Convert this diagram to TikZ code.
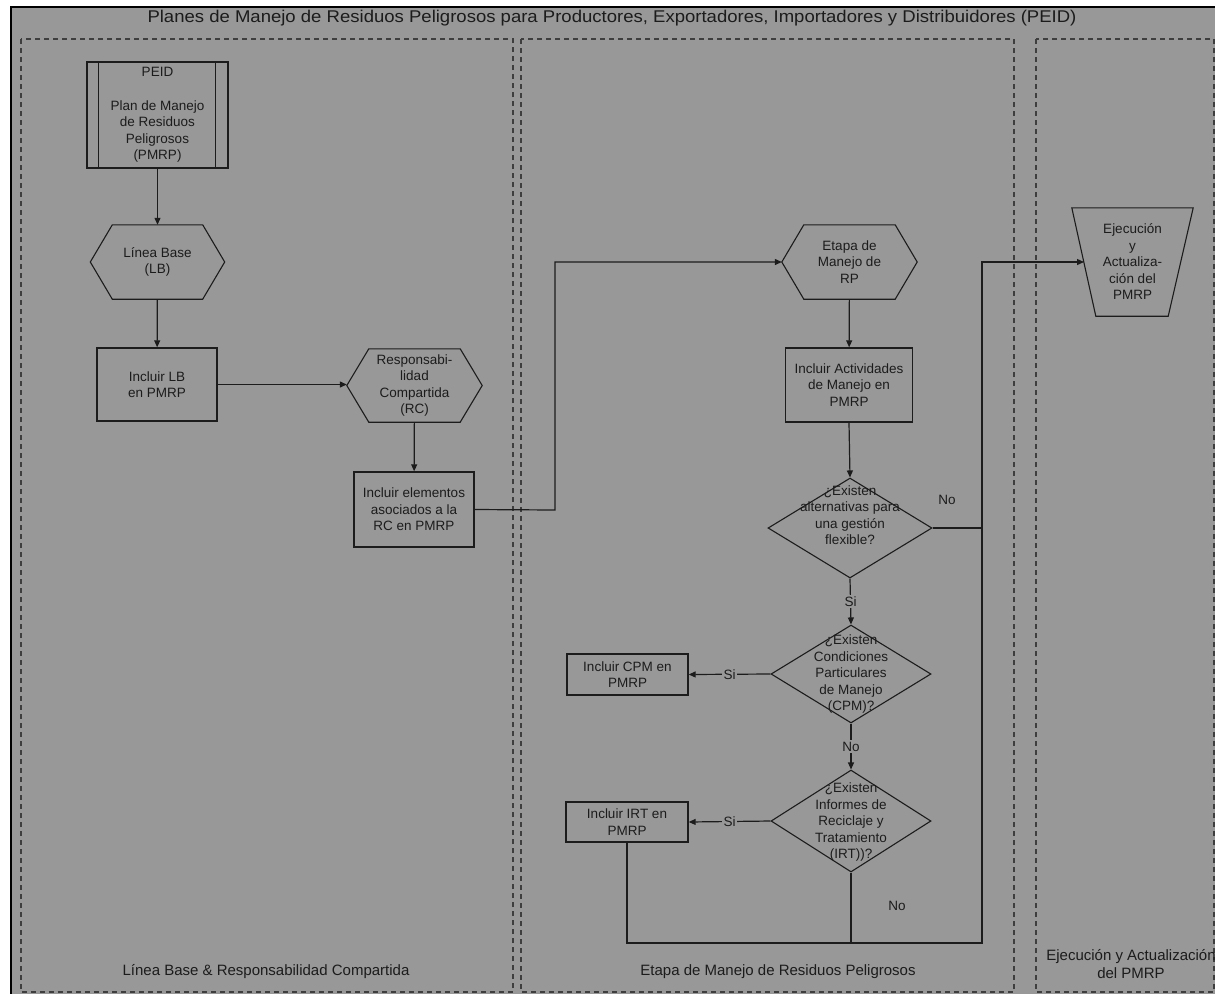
\documentclass[tikz,border=0pt]{standalone}
\usepackage{fontspec}
\setmainfont{Liberation Sans}
\usetikzlibrary{arrows.meta,shapes.geometric}
\definecolor{paper}{HTML}{989898}
\definecolor{ink}{HTML}{1C1C1C}

% outline of an elongated hexagon around a (rectangular) node
\newcommand\hexoutline[1]{%
  \draw[shapeline] (#1.west) -- ([xshift=22pt]#1.north west) -- ([xshift=-22pt]#1.north east)
    -- (#1.east) -- ([xshift=-22pt]#1.south east) -- ([xshift=22pt]#1.south west) -- cycle;}

\begin{document}
\begin{tikzpicture}[x=1pt,y=-1pt,
  txt/.style={font=\fontsize{13.5}{16.5}\selectfont, align=center, text=ink, inner sep=0pt},
  shapeline/.style={draw=ink, line width=1.1pt},
  boxnode/.style={txt, draw=ink, line width=1.4pt, rectangle},
  hexnode/.style={txt, rectangle, draw=none},
  decision/.style={diamond, draw=ink, line width=1.1pt, inner sep=0pt},
  flow/.style={draw=ink, line width=1.2pt},
  arr/.style={flow, -{Triangle[length=7pt,width=6pt]}},
  lane/.style={draw=ink!85, line width=1.6pt, dash pattern=on 5pt off 4pt},
  lanetitle/.style={font=\fontsize{15}{18}\selectfont, align=center, text=ink, inner sep=0pt},
  edgelbl/.style={txt, fill=paper, inner sep=1.5pt}
]
\useasboundingbox (0,0) rectangle (1215,994);
\fill[white] (0,0) rectangle (1215,994);
\fill[paper] (11,7) rectangle (1215,994);
\draw[black, line width=1.5pt] (1215,7) -- (11,7) -- (11,994);

% swimlanes
\draw[lane] (21,39) rectangle (513,992);
\draw[lane] (521,39) rectangle (1014,992);
\draw[lane] (1036,39) rectangle (1214,992);

\node[font=\fontsize{17}{20}\selectfont, text=ink, inner sep=0pt] (title) at (612,18)
  {\scalebox{1.09}[1]{Planes de Manejo de Residuos Peligrosos para Productores, Exportadores, Importadores y Distribuidores (PEID)}};

% lane 1: base line and shared responsibility
\node[boxnode, minimum width=141pt, minimum height=106pt] (peid) at (157.5,115)
  {PEID\\[17pt]Plan de Manejo\\de Residuos\\Peligrosos\\(PMRP)};
\draw[shapeline] ([xshift=12pt]peid.north west) -- ([xshift=12pt]peid.south west);
\draw[shapeline] ([xshift=-13pt]peid.north east) -- ([xshift=-13pt]peid.south east);

\node[hexnode, minimum width=134pt, minimum height=74pt] (lb) at (157.5,262) {Línea Base\\(LB)};
\hexoutline{lb}

\node[boxnode, minimum width=120pt, minimum height=73pt] (inclb) at (157,384.5) {Incluir LB\\en PMRP};

\node[hexnode, minimum width=135pt, minimum height=73pt] (rc) at (414.5,385.5)
  {Responsabi-\\lidad\\Compartida\\(RC)};
\hexoutline{rc}

\node[boxnode, minimum width=120pt, minimum height=75pt] (incrc) at (414,509.5)
  {Incluir elementos\\asociados a la\\RC en PMRP};

% lane 2: handling stage
\node[hexnode, minimum width=135pt, minimum height=74pt] (etapa) at (849.5,262)
  {Etapa de\\Manejo de\\RP};
\hexoutline{etapa}

\node[boxnode, minimum width=127pt, minimum height=74pt] (incact) at (849,385)
  {Incluir Actividades\\de Manejo en\\PMRP};

\node[decision, minimum width=164pt, minimum height=100pt] (d1) at (850,528) {};
\node[txt] (d1t) at (850,515) {¿Existen\\alternativas para\\una gestión\\flexible?};

\node[decision, minimum width=160pt, minimum height=98pt] (d2) at (851,674) {};
\node[txt] (d2t) at (851,674) {¿Existen\\Condiciones\\Particulares\\de Manejo\\(CPM)?};

\node[decision, minimum width=160pt, minimum height=102pt] (d3) at (851,821) {};
\node[txt] (d3t) at (851,822) {¿Existen\\Informes de\\Reciclaje y\\Tratamiento\\(IRT))?};

\node[boxnode, minimum width=121pt, minimum height=41pt] (cpm) at (627.5,674.5) {Incluir CPM en\\PMRP};
\node[boxnode, minimum width=122pt, minimum height=40pt] (irt) at (627,822) {Incluir IRT en\\PMRP};

% lane 3: execution and update
\node[hexnode, minimum width=121pt, minimum height=108pt] (exec) at (1132.5,262)
  {Ejecución\\y\\Actualiza-\\ción del\\PMRP};
\draw[shapeline] (exec.north west) -- (exec.north east) -- ([xshift=-25pt]exec.south east)
  -- ([xshift=24pt]exec.south west) -- cycle;

\coordinate (execin) at (1084,262);
\coordinate (rail) at (982,943);
\coordinate (jog) at (555,510);

% connectors
\draw[arr] (peid) -- (lb);
\draw[arr] (lb) -- (inclb);
\draw[arr] (inclb.east) -- (inclb.east -| rc.west);
\draw[arr] (rc) -- (incrc);
\draw[arr] (incrc.east) -- (jog) |- (etapa.west);
\draw[arr] (etapa) -- (incact);
\draw[arr] (incact.south) -- (d1.north);
\draw[arr] (d1.south) -- node[edgelbl] (si1) {Si} (d2.north);
\draw[arr] (d2.west) -- node[edgelbl] (si2) {Si} (cpm.east);
\draw[arr] (d2.south) -- node[edgelbl] (no2) {No} (d3.north);
\draw[arr] (d3.west) -- node[edgelbl] (si3) {Si} (irt.east);
\draw[arr] (d1.east) -| (rail |- execin) -- (execin);
\draw[flow] (irt.south) |- (rail) -- (rail |- d1.east);
\draw[flow] (d3.south) -- (d3.south |- rail);
\node[txt] (no1) at (947,500) {No};
\node[txt] (no3) at (897,906) {No};

% lane titles
\node[lanetitle] (lane1) at (266,972) {Línea Base \& Responsabilidad Compartida};
\node[lanetitle] (lane2) at (778,972) {Etapa de Manejo de Residuos Peligrosos};
\node[lanetitle] (lane3) at (1131,964) {Ejecución y Actualización\\del PMRP};
\end{tikzpicture}
\end{document}
